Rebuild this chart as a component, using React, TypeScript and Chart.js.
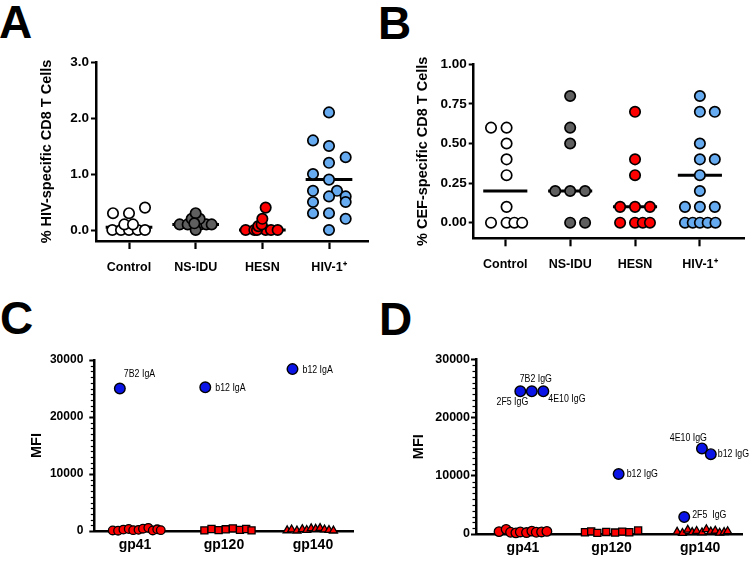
import React, { useEffect, useRef } from "react";
import { Chart, registerables } from "chart.js";
Chart.register(...registerables);

const SANS = "'Liberation Sans', Arial, Helvetica, sans-serif";

// ---------------- Panels A & B ----------------
const groupLabels = ["Control", "NS-IDU", "HESN", "HIV-1⁺"];
const groupColors = ["#ffffff", "#5f5f5f", "#ff0000", "#66aaf0"];

// Panel A: % HIV-specific CD8 T cells (x = jitter offset around group)
const aControlX = [-0.25, -0.12, 0, 0.13, 0.24, -0.07, 0.06, -0.24, 0, 0.24];
const aControlY = [0, 0, 0, 0, 0, 0.1, 0.1, 0.3, 0.3, 0.4];
const aNsiduX = [-0.24, -0.12, 0.07, 0.16, 0.24, 0, -0.06, 0.06, 0, -0.02];
const aNsiduY = [0.1, 0.1, 0.1, 0.1, 0.1, 0, 0.2, 0.2, 0.3, 0.12];
const aHesnX = [-0.25, -0.12, 0.05, 0.13, 0.23, -0.08, -0.06, -0.01, 0, 0.05];
const aHesnY = [0, 0, 0, 0, 0, 0, 0.07, 0.1, 0.2, 0.4];
const aHivX = [0, -0.24, 0, 0.25, 0, -0.24, 0, -0.24, 0.12, 0, 0.25, -0.24, 0.25, -0.24, 0, 0.25, 0];
const aHivY = [2.1, 1.6, 1.5, 1.3, 1.2, 1.0, 0.9, 0.7, 0.7, 0.6, 0.6, 0.5, 0.5, 0.3, 0.3, 0.2, 0];
const aMedians = [0.05, 0.1, 0, 0.9];
const aYTicks = [0, 1, 2, 3];

// Panel B: % CEF-specific CD8 T cells
const bControlX = [-0.22, 0.02, 0.02, 0.02, 0.02, 0.02, -0.22, 0.02, 0.14, 0.26];
const bControlY = [0.6, 0.6, 0.5, 0.4, 0.3, 0.1, 0, 0, 0, 0];
const bNsiduX = [0, 0, 0, -0.23, 0, 0.23, 0, 0.23];
const bNsiduY = [0.8, 0.6, 0.5, 0.2, 0.2, 0.2, 0, 0];
const bHesnX = [0, 0, 0, -0.23, 0, 0.23, -0.23, 0, 0.12, 0.23];
const bHesnY = [0.7, 0.4, 0.3, 0.1, 0.1, 0.1, 0, 0, 0, 0];
const bHivX = [0, 0, 0.23, 0, 0, 0.23, 0, 0, -0.23, 0, 0.23, -0.23, -0.11, 0, 0.12, 0.24];
const bHivY = [0.8, 0.7, 0.7, 0.5, 0.4, 0.4, 0.3, 0.2, 0.1, 0.1, 0.1, 0, 0, 0, 0, 0];
const bMedians = [0.2, 0.2, 0.1, 0.3];
const bYTicks = [0, 0.25, 0.5, 0.75, 1.0];

// ---------------- Panels C & D ----------------
const antigenLabels = ["gp41", "gp120", "gp140"];
const mfiTicks = [0, 10000, 20000, 30000];
const mfiMinorStep = 1000;

// Panel C (IgA)
const cGp41X = [-0.25, -0.19, -0.13, -0.07, -0.02, 0.04, 0.09, 0.15, 0.2, 0.25, 0.29];
const cGp41Y = [100, 50, 250, 350, 150, 200, 400, 550, 100, 300, 150];
const cGp120X = [-0.22, -0.14, -0.06, 0.02, 0.1, 0.18, 0.25, 0.31];
const cGp120Y = [100, 350, 150, 300, 450, 200, 350, 100];
const cGp140X = [-0.29, -0.24, -0.18, -0.12, -0.07, -0.02, 0.03, 0.08, 0.13, 0.18, 0.23];
const cGp140Y = [100, 250, 50, 300, 150, 450, 350, 500, 250, 150, 50];
const cBlueX = [-0.17, 0.79, 1.77];
const cBlueY = [25000, 25200, 28400];
const cBlueLabels = ["7B2 IgA", "b12 IgA", "b12 IgA"];

// Panel D (IgG)
const dGp41X = [-0.27, -0.19, -0.14, -0.08, -0.03, 0.04, 0.1, 0.15, 0.21, 0.27];
const dGp41Y = [400, 800, 300, 200, 350, 250, 500, 300, 350, 450];
const dGp120X = [-0.3, -0.23, -0.16, -0.06, 0.04, 0.12, 0.2, 0.3];
const dGp120Y = [300, 450, 200, 350, 250, 400, 300, 600];
const dGp140X = [-0.26, -0.2, -0.14, -0.09, -0.04, 0.02, 0.07, 0.12, 0.17, 0.22, 0.27, 0.31];
const dGp140Y = [350, 150, 700, 300, 500, 250, 800, 400, 550, 200, 300, 450];
const dBlueX = [-0.03, 0.1, 0.23, 1.08, 2.02, 2.12, 1.82];
const dBlueY = [24500, 24500, 24500, 10300, 14700, 13700, 2900];
const dBlueLabels = ["2F5 IgG", "7B2 IgG", "4E10 IgG", "b12 IgG", "4E10 IgG", "b12 IgG", "2F5  IgG"];

// label placement (pixels relative to the point) – style, not data
const cLabelPlace = [
  { dx: 4, dy: -15, align: "left" },
  { dx: 10, dy: 1, align: "left" },
  { dx: 10, dy: 1, align: "left" },
];
const dLabelPlace = [
  { dx: 8, dy: 11, align: "right" },
  { dx: 4, dy: -12, align: "center" },
  { dx: 5, dy: 8, align: "left" },
  { dx: 8, dy: 0, align: "left" },
  { dx: 5, dy: -10, align: "right" },
  { dx: 7, dy: 0, align: "left" },
  { dx: 8, dy: -2, align: "left" },
];

type Place = { dx: number; dy: number; align: string };

function pts(center: number, xs: number[], ys: number[]) {
  return xs.map((dx, i) => ({ x: center + dx, y: ys[i] }));
}

function groupDatasets(groups: [number[], number[]][], medians: number[], half: number) {
  const ds: any[] = [];
  groups.forEach(([xs, ys], g) => {
    ds.push({
      data: pts(g, xs, ys),
      backgroundColor: groupColors[g],
      borderColor: "#000",
      borderWidth: 1.7,
      pointRadius: 5.2,
      clip: false,
      order: 1,
    });
  });
  medians.forEach((m, g) => {
    ds.push({
      data: [
        { x: g - half, y: m },
        { x: g + half, y: m },
      ],
      showLine: true,
      borderColor: "#000",
      borderWidth: 3,
      pointRadius: 0,
      clip: false,
      order: 5,
    });
  });
  return ds;
}

const minorTickPlugin = {
  id: "minorTicks",
  afterDraw(chart: any) {
    const ys = chart.scales.y;
    const ctx = chart.ctx;
    const x0 = chart.chartArea.left;
    ctx.save();
    ctx.strokeStyle = "#000";
    ctx.lineWidth = 1.2;
    for (let v = ys.min + mfiMinorStep; v < ys.max; v += mfiMinorStep) {
      if (v % 10000 === 0) continue;
      const y = Math.round(ys.getPixelForValue(v)) + 0.5;
      ctx.beginPath();
      ctx.moveTo(x0 - 3.5, y);
      ctx.lineTo(x0, y);
      ctx.stroke();
    }
    ctx.restore();
  },
};

function notePlugin(xs: number[], ys: number[], texts: string[], place: Place[]) {
  return {
    id: "notes",
    afterDatasetsDraw(chart: any) {
      const ctx = chart.ctx;
      const sx = chart.scales.x;
      const sy = chart.scales.y;
      ctx.save();
      ctx.font = `11px ${SANS}`;
      ctx.fillStyle = "#000";
      ctx.textBaseline = "middle";
      texts.forEach((t, i) => {
        ctx.save();
        ctx.translate(sx.getPixelForValue(xs[i]) + place[i].dx, sy.getPixelForValue(ys[i]) + place[i].dy);
        ctx.scale(0.8, 1);
        ctx.textAlign = place[i].align;
        ctx.fillText(t, 0, 0);
        ctx.restore();
      });
      ctx.restore();
    },
  };
}

type Spec = {
  width: number;
  height: number;
  padLeft: number;
  padTop: number;
  padRight: number;
  yWidth: number;
  xHeight: number;
  xMin: number;
  xMax: number;
  yMin: number;
  yMax: number;
  yTicks: number[];
  yFmt: (v: number) => string;
  xLabels: string[];
  yTitle: string;
  titleSize: number;
  yTickSize: number;
  yTickPad: number;
  xTickSize: number;
  xTickMarks: boolean;
  xPad: number;
  datasets: any[];
  plugins: any[];
};

function buildConfig(s: Spec): any {
  return {
    type: "scatter",
    data: { datasets: s.datasets },
    plugins: s.plugins,
    options: {
      responsive: false,
      animation: false,
      devicePixelRatio: 1,
      events: [],
      layout: { padding: { left: s.padLeft, top: s.padTop, right: s.padRight, bottom: 0 } },
      plugins: { legend: { display: false }, tooltip: { enabled: false } },
      scales: {
        x: {
          type: "linear",
          min: s.xMin,
          max: s.xMax,
          afterFit: (sc: any) => {
            sc.height = s.xHeight;
          },
          afterBuildTicks: (sc: any) => {
            sc.ticks = s.xLabels.map((_, i) => ({ value: i }));
          },
          grid: {
            display: true,
            drawOnChartArea: false,
            drawTicks: s.xTickMarks,
            tickLength: 8,
            tickWidth: 2.2,
            tickColor: "#000",
          },
          border: { display: true, color: "#000", width: 2.5 },
          ticks: {
            autoSkip: false,
            maxRotation: 0,
            padding: s.xPad,
            color: "#000",
            font: { family: SANS, size: s.xTickSize, weight: "bold" },
            callback: (v: number) => s.xLabels[v] ?? "",
          },
        },
        y: {
          type: "linear",
          min: s.yMin,
          max: s.yMax,
          afterFit: (sc: any) => {
            sc.width = s.yWidth;
          },
          afterBuildTicks: (sc: any) => {
            sc.ticks = s.yTicks.map((v) => ({ value: v }));
          },
          grid: {
            display: true,
            drawOnChartArea: false,
            drawTicks: true,
            tickLength: 5,
            tickWidth: 2,
            tickColor: "#000",
          },
          border: { display: true, color: "#000", width: 2.5 },
          ticks: {
            padding: s.yTickPad,
            color: "#000",
            font: { family: SANS, size: s.yTickSize, weight: "bold" },
            callback: (v: number) => s.yFmt(v),
          },
          title: {
            display: true,
            text: s.yTitle,
            color: "#000",
            padding: { top: 0, bottom: 0 },
            font: { family: SANS, size: s.titleSize, weight: "bold" },
          },
        },
      },
    },
  };
}

function Panel({ spec, left, top }: { spec: Spec; left: number; top: number }) {
  const ref = useRef<HTMLCanvasElement | null>(null);
  useEffect(() => {
    if (!ref.current) return;
    const chart = new Chart(ref.current, buildConfig(spec));
    return () => chart.destroy();
  }, []);
  return (
    <canvas
      ref={ref}
      width={spec.width}
      height={spec.height}
      style={{ position: "absolute", left, top, width: spec.width, height: spec.height }}
    />
  );
}

const redStyle = { backgroundColor: "#ff0000", borderColor: "#000", borderWidth: 1.3, clip: false };
const blueStyle = { backgroundColor: "#0a14e6", borderColor: "#000", borderWidth: 1.4, pointRadius: 5.3, clip: false };

const specA: Spec = {
  width: 376, height: 250, padLeft: 38.3, padTop: 22, padRight: 8, yWidth: 57.7, xHeight: 49,
  xMin: -0.495, xMax: 3.585, yMin: -0.196, yMax: 3,
  yTicks: aYTicks, yFmt: (v) => v.toFixed(1), xLabels: groupLabels,
  yTitle: "% HIV-specific CD8 T Cells", titleSize: 14.5, yTickSize: 13.5, yTickPad: 2, xTickSize: 12.5,
  xTickMarks: true, xPad: 11,
  datasets: groupDatasets(
    [[aControlX, aControlY], [aNsiduX, aNsiduY], [aHesnX, aHesnY], [aHivX, aHivY]],
    aMedians, 0.35
  ),
  plugins: [],
};

const specB: Spec = {
  width: 376, height: 250, padLeft: 38, padTop: 24.3, padRight: 8, yWidth: 59.7, xHeight: 51.7,
  xMin: -0.487, xMax: 3.68, yMin: -0.0985, yMax: 1,
  yTicks: bYTicks, yFmt: (v) => v.toFixed(2), xLabels: groupLabels,
  yTitle: "% CEF-specific CD8 T Cells", titleSize: 14.5, yTickSize: 13.5, yTickPad: 2, xTickSize: 12.5,
  xTickMarks: true, xPad: 11,
  datasets: groupDatasets(
    [[bControlX, bControlY], [bNsiduX, bNsiduY], [bHesnX, bHesnY], [bHivX, bHivY]],
    bMedians, 0.34
  ),
  plugins: [],
};

const specC: Spec = {
  width: 376, height: 273, padLeft: 28, padTop: 70, padRight: 23, yWidth: 66.3, xHeight: 32,
  xMin: -0.457, xMax: 2.45, yMin: 0, yMax: 30000,
  yTicks: mfiTicks, yFmt: (v) => String(v), xLabels: antigenLabels,
  yTitle: "MFI", titleSize: 14.5, yTickSize: 12, yTickPad: 6, xTickSize: 14,
  xTickMarks: false, xPad: 6,
  datasets: [
    { data: pts(0, cGp41X, cGp41Y), pointStyle: "circle", pointRadius: 4.3, ...redStyle },
    { data: pts(1, cGp120X, cGp120Y), pointStyle: "rect", pointRadius: 5, ...redStyle },
    { data: pts(2, cGp140X, cGp140Y), pointStyle: "triangle", pointRadius: 4.6, ...redStyle },
    { data: cBlueX.map((x, i) => ({ x, y: cBlueY[i] })), ...blueStyle },
  ],
  plugins: [minorTickPlugin, notePlugin(cBlueX, cBlueY, cBlueLabels, cLabelPlace as Place[])],
};

const specD: Spec = {
  width: 376, height: 273, padLeft: 33.8, padTop: 69.3, padRight: 9.3, yWidth: 66.2, xHeight: 29,
  xMin: -0.53, xMax: 2.48, yMin: 0, yMax: 30000,
  yTicks: mfiTicks, yFmt: (v) => String(v), xLabels: antigenLabels,
  yTitle: "MFI", titleSize: 14.5, yTickSize: 12.5, yTickPad: 1, xTickSize: 14,
  xTickMarks: false, xPad: 6,
  datasets: [
    { data: pts(0, dGp41X, dGp41Y), pointStyle: "circle", pointRadius: 4.8, ...redStyle },
    { data: pts(1, dGp120X, dGp120Y), pointStyle: "rect", pointRadius: 5, ...redStyle },
    { data: pts(2, dGp140X, dGp140Y), pointStyle: "triangle", pointRadius: 4.6, ...redStyle },
    { data: dBlueX.map((x, i) => ({ x, y: dBlueY[i] })), ...blueStyle },
  ],
  plugins: [minorTickPlugin, notePlugin(dBlueX, dBlueY, dBlueLabels, dLabelPlace as Place[])],
};

const letterStyle: React.CSSProperties = {
  position: "absolute",
  fontFamily: SANS,
  fontWeight: "bold",
  fontSize: 46,
  lineHeight: 1,
  color: "#000",
};

export default function App() {
  return (
    <div style={{ position: "fixed", left: 0, top: 0, width: 752, height: 563, background: "#fff", overflow: "hidden" }}>
      <div style={{ ...letterStyle, left: -1, top: -1 }}>A</div>
      <div style={{ ...letterStyle, left: 378, top: 0 }}>B</div>
      <div style={{ ...letterStyle, left: 0, top: 295 }}>C</div>
      <div style={{ ...letterStyle, left: 379, top: 296 }}>D</div>
      <Panel spec={specA} left={0} top={40} />
      <Panel spec={specB} left={376} top={40} />
      <Panel spec={specC} left={0} top={290} />
      <Panel spec={specD} left={376} top={290} />
    </div>
  );
}
